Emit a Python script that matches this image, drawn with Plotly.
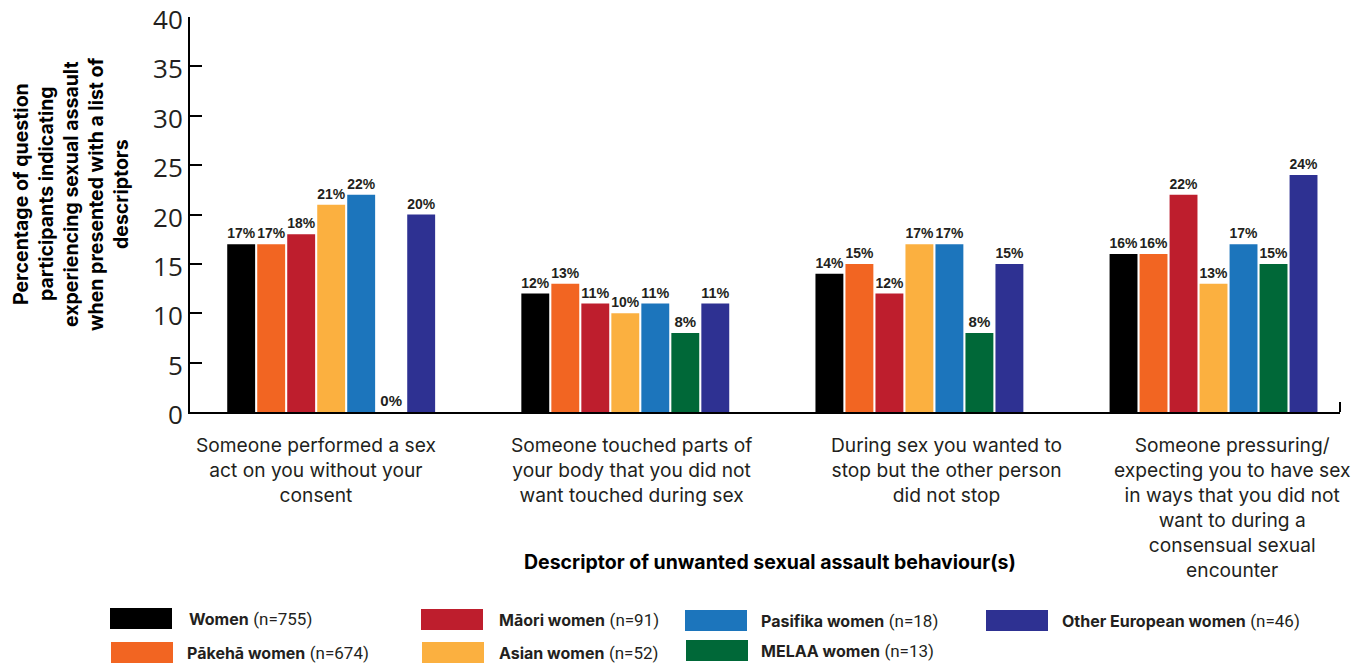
import plotly.graph_objects as go

categories = [
    "Someone performed a sex<br>act on you without your<br>consent",
    "Someone touched parts of<br>your body that you did not<br>want touched during sex",
    "During sex you wanted to<br>stop but the other person<br>did not stop",
    "Someone pressuring/<br>expecting you to have sex<br>in ways that you did not<br>want to during a<br>consensual sexual<br>encounter",
]

groups = ["Women", "Pākehā women", "Māori women", "Asian women",
          "Pasifika women", "MELAA women", "Other European women"]
group_n = [755, 674, 91, 52, 18, 13, 46]
colors = ["#000000", "#F26522", "#BE1E2D", "#FBB040", "#1C75BC", "#006838", "#2E3192"]

women = [17, 12, 14, 16]
pakeha = [17, 13, 15, 16]
maori = [18, 11, 12, 22]
asian = [21, 10, 17, 13]
pasifika = [22, 11, 17, 17]
melaa = [0, 8, 8, 15]
other_eur = [20, 11, 15, 24]
series = [women, pakeha, maori, asian, pasifika, melaa, other_eur]

y_title_lines = ["Percentage of question", "participants indicating",
                 "experiencing sexual assault", "when presented with a list of",
                 "descriptors"]
x_title = "Descriptor of unwanted sexual assault behaviour(s)"

# plot area in screen pixels; the page body adds an 8px margin
OFF = 8
L, R, T, B = 190, 1340, 17, 412
W, H = 1367 - OFF, 664 - OFF


def px(x):
    return (x - L) / (R - L)


def py(y):
    return (B - y) / (B - T)


fig = go.Figure()
for name, vals, col in zip(groups, series, colors):
    fig.add_bar(x=categories, y=vals, name=name,
                marker=dict(color=col, line=dict(width=0)),
                text=[f"{v}%" for v in vals], textposition="outside",
                textfont=dict(family="Liberation Sans", size=15, color="#231f20", weight="bold"),
                cliponaxis=False, showlegend=False)

fig.update_layout(
    width=W, height=H,
    margin=dict(l=L - OFF, r=W - (R - OFF), t=T - OFF, b=H - (B - OFF), autoexpand=False),
    paper_bgcolor="white", plot_bgcolor="white",
    barmode="group", bargap=0.286, bargroupgap=0.07,
    font=dict(family="Inter", color="#231f20"),
)
fig.update_yaxes(range=[0, 40], dtick=5, showgrid=False, zeroline=False,
                 showline=True, linecolor="black", linewidth=2,
                 ticks="inside", ticklen=12, tickwidth=2, tickcolor="black",
                 ticklabeloverflow="allow", ticklabelshift=3,
                 tickfont=dict(family="Open Sans", size=26, color="#231f20"), automargin=False)
fig.update_xaxes(range=[-0.48, 3.43], showgrid=False, showline=True,
                 linecolor="black", linewidth=2, showticklabels=False,
                 ticks="", automargin=False)

# small end tick on the x axis
fig.add_shape(type="line", xref="paper", yref="paper", x0=1, x1=1, y0=0, y1=py(402),
              line=dict(color="black", width=2))

# category labels placed under each group
label_x = [316, 631, 946, 1232]
for cat, lx in zip(categories, label_x):
    fig.add_annotation(xref="paper", yref="paper", x=px(lx), y=py(431),
                       text=cat, showarrow=False, xanchor="center", yanchor="top",
                       font=dict(family="Inter", size=19.2, color="#231f20"))

# y axis title, one rotated line at a time to keep the tight line spacing
for i, line in enumerate(y_title_lines):
    fig.add_annotation(xref="paper", yref="paper", x=px(21 + 25 * i), y=py(194),
                       text=f"<b>{line}</b>", textangle=-90, showarrow=False,
                       font=dict(family="Inter", size=19.5, color="black"),
                       xanchor="center", yanchor="middle")
fig.add_annotation(xref="paper", yref="paper", x=px(770), y=py(562),
                   text=f"<b>{x_title}</b>",
                   showarrow=False, font=dict(family="Inter", size=19.5, color="black"),
                   xanchor="center", yanchor="middle")

# manual legend laid out in columns: swatch left, swatch top, text left
legend_pos = [(110, 608, 187), (111, 642, 185), (421, 609, 497), (422, 642, 497),
              (685, 610, 759), (686, 640, 759), (986, 610, 1060)]
for name, n, col, (sx, sy, tx) in zip(groups, group_n, colors, legend_pos):
    fig.add_shape(type="rect", xref="paper", yref="paper",
                  x0=px(sx), x1=px(sx + 62), y0=py(sy), y1=py(sy + 21),
                  fillcolor=col, line=dict(width=0))
    fig.add_annotation(xref="paper", yref="paper", x=px(tx), y=py(sy + 11),
                       text=f"<b>{name}</b> <span style='font-family:Roboto;font-size:17px'>(n={n})</span>",
                       showarrow=False, xanchor="left", yanchor="middle",
                       font=dict(family="Inter", size=16, color="#231f20"))

fig.write_html("out.html")
